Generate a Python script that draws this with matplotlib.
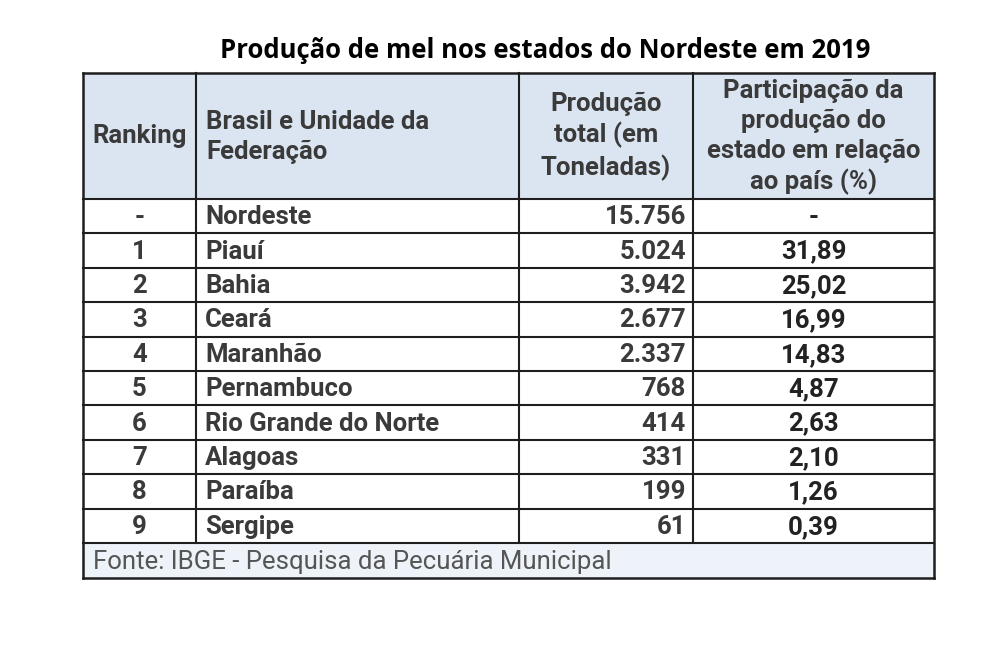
import matplotlib.pyplot as plt
from matplotlib.patches import Rectangle

ranking = ['-', '1', '2', '3', '4', '5', '6', '7', '8', '9']
estados = ['Nordeste', 'Piauí', 'Bahia', 'Ceará', 'Maranhão', 'Pernambuco',
           'Rio Grande do Norte', 'Alagoas', 'Paraíba', 'Sergipe']
producao = ['15.756', '5.024', '3.942', '2.677', '2.337', '768',
            '414', '331', '199', '61']
participacao = ['-', '31,89', '25,02', '16,99', '14,83', '4,87',
                '2,63', '2,10', '1,26', '0,39']

headers = ['Ranking', 'Brasil e Unidade da\nFederação', 'Produção\ntotal (em\nToneladas)',
           'Participação da\nprodução do\nestado em relação\nao país (%)']
titulo = 'Produção de mel nos estados do Nordeste em 2019'
fonte = 'Fonte: IBGE - Pesquisa da Pecuária Municipal'

# layout in pixels
cols = [83, 196, 519, 693, 934]
top, head_bot = 73, 199
row_h = 34.4
n = len(estados)
foot_top = head_bot + n * row_h
foot_bot = foot_top + 35

txt = '#3a3a3a'
line = '#1e1e1e'

fig = plt.figure(figsize=(10, 6.5), dpi=100)
ax = fig.add_axes([0, 0, 1, 1])
ax.set_xlim(0, 1000)
ax.set_ylim(650, 0)
ax.axis('off')

ax.add_patch(Rectangle((cols[0], top), cols[-1] - cols[0], head_bot - top,
                       facecolor='#dbe5f1', edgecolor='none'))
ax.add_patch(Rectangle((cols[0], foot_top), cols[-1] - cols[0], foot_bot - foot_top,
                       facecolor='#eef3f9', edgecolor='none'))

ax.text(545, 50, titulo, ha='center', va='center', fontsize=18.5,
        fontweight='bold', family='Open Sans', color='#000000')

hx = [(cols[0] + cols[1]) / 2, cols[1] + 10, (cols[2] + cols[3]) / 2, (cols[3] + cols[4]) / 2]
ha = ['center', 'left', 'center', 'center']
hy = [(top + head_bot) / 2, 137, 136, (top + head_bot) / 2 + 1]
for h, x, a, y in zip(headers, hx, ha, hy):
    ax.text(x, y, h, ha=a, va='center', multialignment=a, fontsize=18.5,
            fontweight='bold', family='Roboto', color=txt, linespacing=1.3)

fs = 18.5
for i in range(n):
    y = head_bot + (i + 0.5) * row_h + 1
    ax.text((cols[0] + cols[1]) / 2, y, ranking[i], ha='center', va='center',
            fontsize=fs, fontweight='bold', family='Roboto', color=txt)
    ax.text(cols[1] + 9, y, estados[i], ha='left', va='center',
            fontsize=fs, fontweight='bold', family='Roboto', color=txt)
    ax.text(cols[3] - 7, y, producao[i], ha='right', va='center',
            fontsize=fs, fontweight='bold', family='Roboto', color=txt)
    ax.text((cols[3] + cols[4]) / 2, y, participacao[i], ha='center', va='center',
            fontsize=fs, fontweight='bold', family='Roboto', color='#222222')

ax.text(cols[0] + 10, (foot_top + foot_bot) / 2 + 1, fonte, ha='left', va='center',
        fontsize=18.5, family='Roboto', color='#555555')

# grid lines
for i in range(n + 1):
    y = head_bot + i * row_h
    ax.plot([cols[0], cols[-1]], [y, y], color=line, lw=1.5)
ax.plot([cols[0], cols[-1]], [top, top], color=line, lw=1.8)
ax.plot([cols[0], cols[-1]], [foot_bot, foot_bot], color=line, lw=1.8)
for c in cols[1:-1]:
    ax.plot([c, c], [top, foot_top], color=line, lw=1.5)
for c in (cols[0], cols[-1]):
    ax.plot([c, c], [top, foot_bot], color=line, lw=1.8)

fig.savefig('out.png', dpi=100, facecolor='white')
